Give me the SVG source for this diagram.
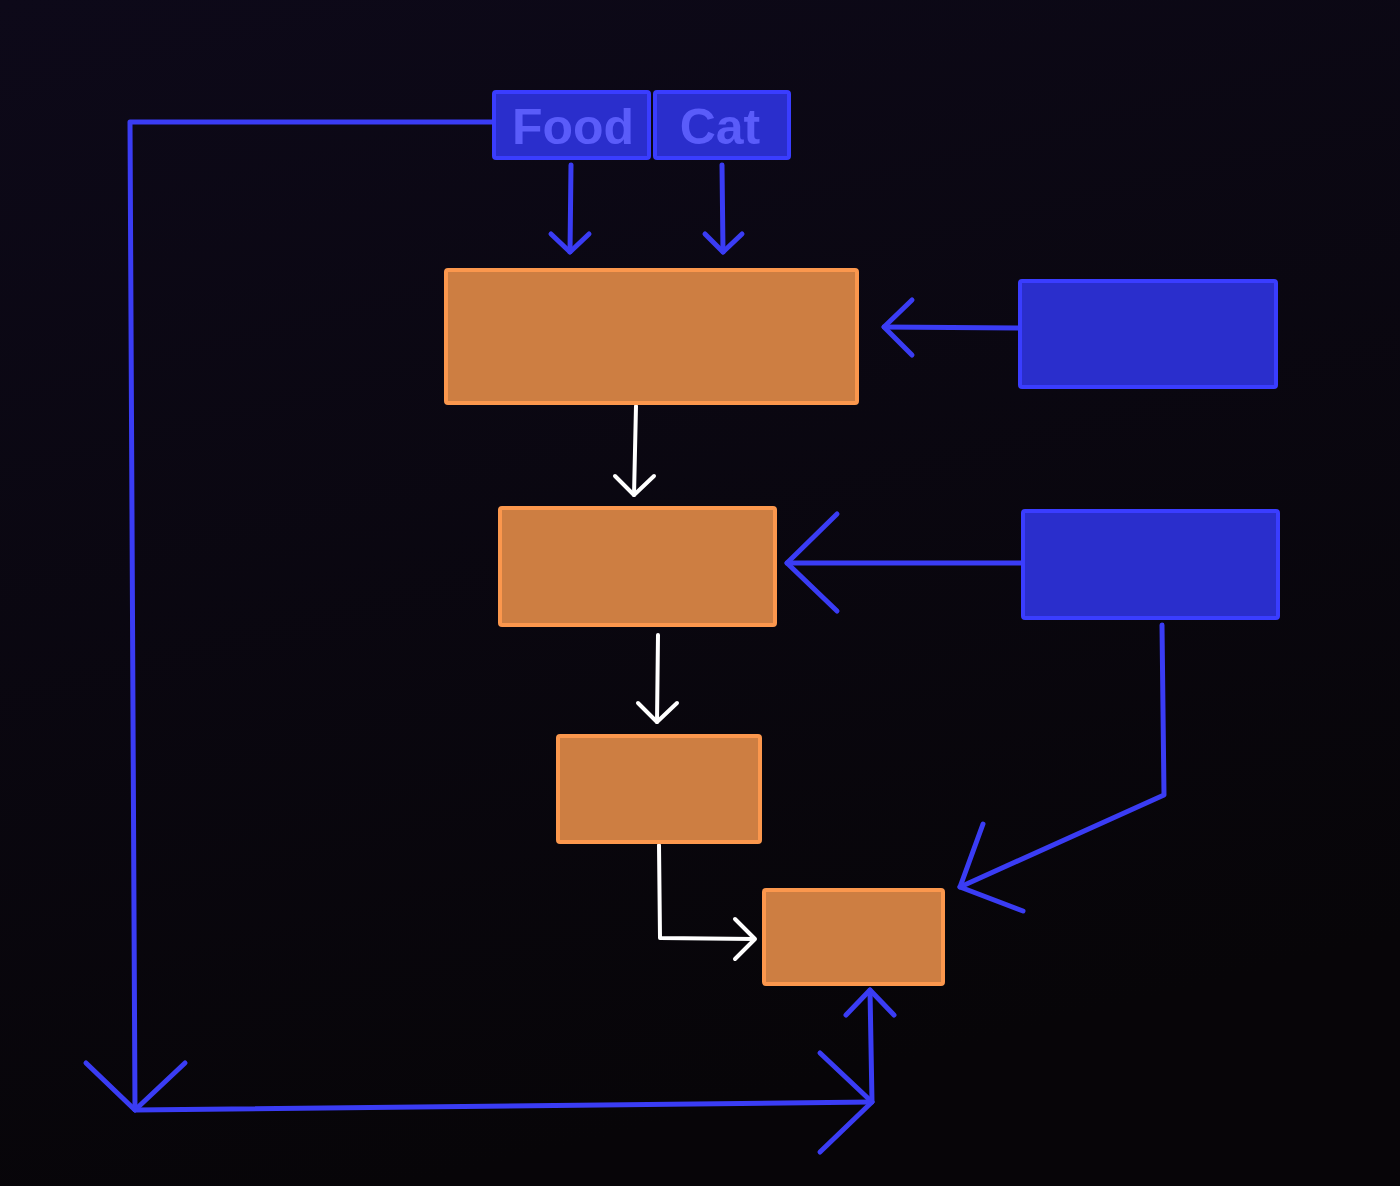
<svg xmlns="http://www.w3.org/2000/svg" width="1400" height="1186" viewBox="0 0 1400 1186">
<defs>
<linearGradient id="bg" x1="0" y1="0" x2="0.3" y2="1">
<stop offset="0" stop-color="#0d0919"/>
<stop offset="1" stop-color="#070508"/>
</linearGradient>
<style>
.or{fill:#cd7e42;stroke:#fb974d;stroke-width:4}
.bl{fill:#2a2ecc;stroke:#3a3dff;stroke-width:4}
.bc{fill:none;stroke:#3a3cf4;stroke-width:5;stroke-linecap:round;stroke-linejoin:round}
.wc{fill:none;stroke:#ffffff;stroke-width:4;stroke-linecap:round;stroke-linejoin:round}
.lbl{font-family:"Liberation Sans",Arial,sans-serif;font-weight:bold;font-size:50px;fill:#5a5cfa;text-anchor:middle}
</style>
</defs>
<rect width="1400" height="1186" fill="url(#bg)"/>
<g id="connectors">
<path class="bc" d="M494,122 L130,122 L135,1110"/>
<path class="bc" d="M86,1063 L135,1110 L185,1063"/>
<path class="bc" d="M135,1110 L872,1102"/>
<path class="bc" d="M820,1053 L872,1102 L820,1152"/>
<path class="bc" d="M872,1102 L870,990"/>
<path class="bc" d="M846,1015 L870,990 L894,1015"/>
<path class="bc" d="M571,165 L570,252"/>
<path class="bc" d="M551,234 L570,252 L589,234"/>
<path class="bc" d="M722,165 L723,252"/>
<path class="bc" d="M705,234 L723,252 L742,234"/>
<path class="bc" d="M1018,328 L884,327"/>
<path class="bc" d="M912,300 L884,327 L912,355"/>
<path class="bc" d="M1021,563 L787,563"/>
<path class="bc" d="M837,514 L787,563 L837,611"/>
<path class="bc" d="M1162,625 L1164,795 L960,887"/>
<path class="bc" d="M983,824 L960,887 L1023,911"/>
<path class="wc" d="M636,406 L634,495"/>
<path class="wc" d="M615,476 L634,495 L654,476"/>
<path class="wc" d="M658,635 L657,722"/>
<path class="wc" d="M638,703 L657,722 L677,703"/>
<path class="wc" d="M659,845 L660,938 L754,939"/>
<path class="wc" d="M735,919 L755,939 L735,959"/>
</g>
<g id="food"><rect class="bl" x="494" y="92" width="155" height="66" rx="2"/><text class="lbl" x="573" y="144">Food</text></g>
<g id="cat"><rect class="bl" x="655" y="92" width="134" height="66" rx="2"/><text class="lbl" x="720" y="144">Cat</text></g>
<g id="orange1"><rect class="or" x="446" y="270" width="411" height="133" rx="2"/></g>
<g id="orange2"><rect class="or" x="500" y="508" width="275" height="117" rx="2"/></g>
<g id="orange3"><rect class="or" x="558" y="736" width="202" height="106" rx="2"/></g>
<g id="orange4"><rect class="or" x="764" y="890" width="179" height="94" rx="2"/></g>
<g id="blue1"><rect class="bl" x="1020" y="281" width="256" height="106" rx="2"/></g>
<g id="blue2"><rect class="bl" x="1023" y="511" width="255" height="107" rx="2"/></g>
</svg>
